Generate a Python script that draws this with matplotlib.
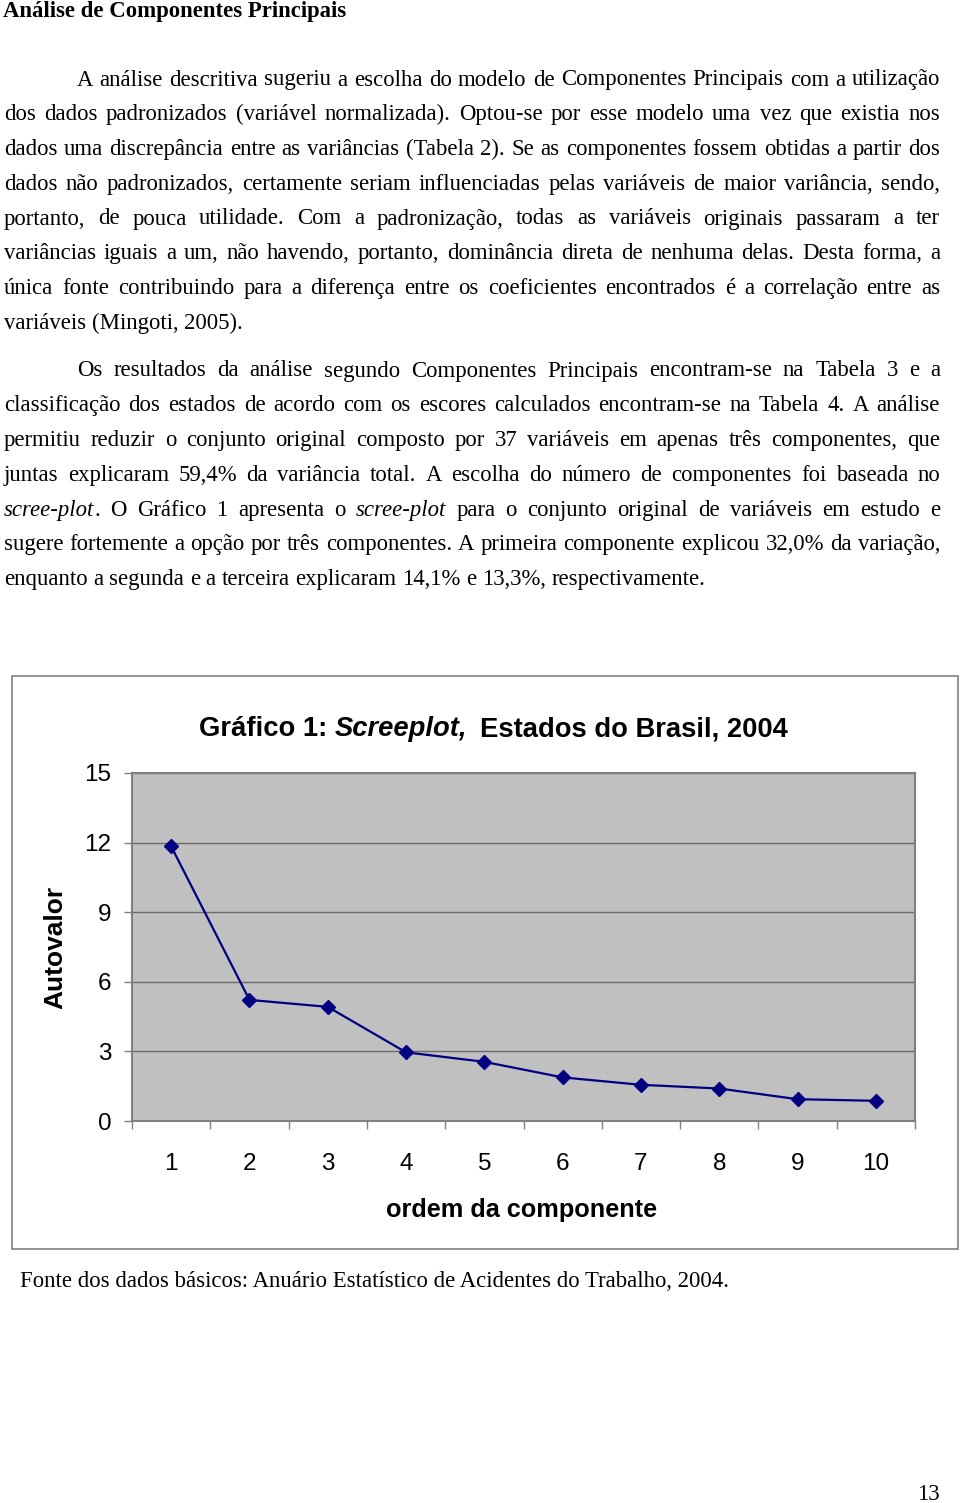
import matplotlib
matplotlib.use('Agg')
import matplotlib.pyplot as plt
from matplotlib.patches import Rectangle
import numpy as np

# ---------------- data ----------------
components = [1, 2, 3, 4, 5, 6, 7, 8, 9, 10]
eigenvalues = [11.84, 5.22, 4.92, 2.96, 2.55, 1.88, 1.56, 1.40, 0.94, 0.87]
y_ticks = [0, 3, 6, 9, 12, 15]

heading = "Análise de Componentes Principais"
para1 = [
    "A análise descritiva sugeriu a escolha do modelo de Componentes Principais com a utilização",
    "dos dados padronizados (variável normalizada). Optou-se por esse modelo uma vez que existia nos",
    "dados uma discrepância entre as variâncias (Tabela 2). Se as componentes fossem obtidas a partir dos",
    "dados não padronizados, certamente seriam influenciadas pelas variáveis de maior variância, sendo,",
    "portanto, de pouca utilidade. Com a padronização, todas as variáveis originais passaram a ter",
    "variâncias iguais a um, não havendo, portanto, dominância direta de nenhuma delas. Desta forma, a",
    "única fonte contribuindo para a diferença entre os coeficientes encontrados é a correlação entre as",
    "variáveis (Mingoti, 2005).",
]
para2 = [
    "Os resultados da análise segundo Componentes Principais encontram-se na Tabela 3 e a",
    "classificação dos estados de acordo com os escores calculados encontram-se na Tabela 4. A análise",
    "permitiu reduzir o conjunto original composto por 37 variáveis em apenas três componentes, que",
    "juntas explicaram 59,4% da variância total. A escolha do número de componentes foi baseada no",
    "*scree-plot*. O Gráfico 1 apresenta o *scree-plot* para o conjunto original de variáveis em estudo e",
    "sugere fortemente a opção por três componentes. A primeira componente explicou 32,0% da variação,",
    "enquanto a segunda e a terceira explicaram 14,1% e 13,3%, respectivamente.",
]
footnote = "Fonte dos dados básicos: Anuário Estatístico de Acidentes do Trabalho, 2004."
page_number = "13"
title_parts = [("Gráfico 1:", 'normal'), ("Screeplot,", 'italic'), ("Estados do Brasil, 2004", 'normal')]

# ---------------- layout ----------------
W, H = 960, 1503
DPI = 100
fig = plt.figure(figsize=(W / DPI, H / DPI), dpi=DPI)
fig.patch.set_facecolor('white')
renderer = fig.canvas.get_renderer()

SERIF = 'Liberation Serif'
SANS = 'Liberation Sans'
BODY = 16.4


def fx(x):
    return x / W


def fy(y):
    return 1 - y / H


def seg_text(x, y, s, style, size, weight='normal', family=SERIF):
    t = fig.text(fx(x), fy(y), s, fontsize=size, family=family, style=style,
                 weight=weight, ha='left', va='baseline')
    return t, t.get_window_extent(renderer).width


def measure_word(segs, size):
    total = 0
    for s, st in segs:
        t = fig.text(0, 0, s, fontsize=size, family=SERIF, style=st)
        total += t.get_window_extent(renderer).width
        t.remove()
    return total


def draw_line(line, x0, x1, y, size, justify):
    words = line.split(' ')
    italic_state = False
    parsed = []
    for w in words:
        segs = []
        parts = w.split('*')
        for i, p in enumerate(parts):
            if i > 0:
                italic_state = not italic_state
            if p:
                segs.append((p, 'italic' if italic_state else 'normal'))
        parsed.append(segs)
    widths = [measure_word(s, size) for s in parsed]
    space = 0.25 * size * DPI / 72
    if justify and len(parsed) > 1:
        gap = (x1 - x0 - sum(widths)) / (len(parsed) - 1)
    else:
        gap = space
    x = x0
    for segs, wd in zip(parsed, widths):
        xx = x
        for s, st in segs:
            t, w = seg_text(xx, y, s, st, size)
            xx += w
        x += wd + gap


# heading
fig.text(fx(3), fy(17), heading, fontsize=BODY, family=SERIF, weight='bold',
         ha='left', va='baseline')

LEFT, RIGHT, INDENT = 4, 940, 77
LS = 34.75
y0 = 85.5
for i, line in enumerate(para1):
    last = i == len(para1) - 1
    draw_line(line, INDENT if i == 0 else LEFT, RIGHT, y0 + i * LS, BODY, not last)

y0 = 376.5
for i, line in enumerate(para2):
    last = i == len(para2) - 1
    draw_line(line, INDENT if i == 0 else LEFT, RIGHT, y0 + i * LS, BODY, not last)

# chart outer frame
fig.patches.append(Rectangle((fx(12), fy(1249)), (958 - 12) / W, (1249 - 676) / H,
                             transform=fig.transFigure, fill=False,
                             edgecolor='#808080', lw=1.2))

# plot area
ax = fig.add_axes([132 / W, fy(1121), 783 / W, 348 / H])
ax.set_facecolor('#C0C0C0')
ax.set_axisbelow(True)
ax.plot(components, eigenvalues, color='#000080', lw=1.6, marker='D', ms=7,
        mfc='#000080', mec='#000080', zorder=3)
ax.set_xlim(0.5, 10.5)
ax.set_ylim(0, 15)
ax.set_yticks(y_ticks)
ax.yaxis.grid(True, color='#6a6a6a', lw=1.0)
ax.set_xticks(components)
ax.set_xticks(np.arange(0.5, 11, 1), minor=True)
ax.tick_params(axis='x', which='major', length=0, pad=23, labelsize=17.5)
ax.tick_params(axis='x', which='minor', length=6, width=1, color='#808080')
ax.tick_params(axis='y', length=6, width=1, color='#808080', pad=9, labelsize=17.5)
for lab in ax.get_xticklabels() + ax.get_yticklabels():
    lab.set_family(SANS)
for s in ax.spines.values():
    s.set_color('#808080')
    s.set_linewidth(1.5)

# chart title (mixed styles)
x = 199
tsize = 19.7
tspace = 0.278 * tsize * DPI / 72
for s, st in title_parts:
    t = fig.text(fx(x), fy(736), s, fontsize=tsize, family=SANS, weight='bold',
                 style=st, ha='left', va='baseline')
    x += t.get_window_extent(renderer).width + tspace * (1.6 if st == 'italic' else 1.0)

fig.text(fx(55), fy(947), "Autovalor", fontsize=19, family=SANS, weight='bold',
         rotation=90, ha='center', va='center')
fig.text(fx(522), fy(1210), "ordem da componente", fontsize=18.2, family=SANS,
         weight='bold', ha='center', va='center')

# footnote and page number
fig.text(fx(20), fy(1287), footnote, fontsize=BODY, family=SERIF, ha='left', va='baseline')
fig.text(fx(940), fy(1500), page_number, fontsize=BODY, family=SERIF, ha='right', va='baseline')

fig.savefig('out.png', dpi=DPI, facecolor='white')
